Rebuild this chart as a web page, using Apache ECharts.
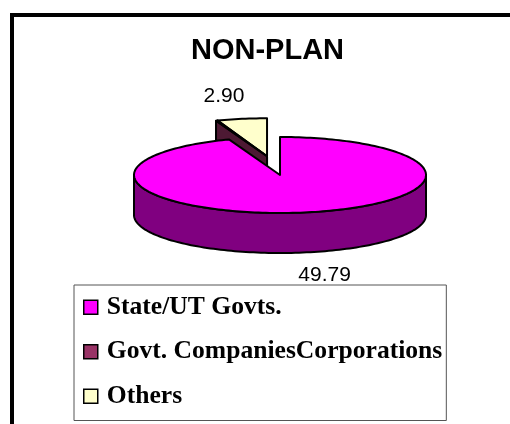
<!DOCTYPE html>
<html>
<head>
<meta charset="utf-8">
<script src="https://cdn.jsdelivr.net/npm/echarts@6/dist/echarts.min.js"></script>
<style>
  html, body { margin: 0; padding: 0; background: #fff; }
  #chart { width: 510px; height: 424px; }
</style>
</head>
<body>
<div id="chart"></div>
<script>
// 数据
const categories = ['State/UT Govts.', 'Govt. CompaniesCorporations', 'Others'];
const values = [49.79, 0.1, 2.90];
const valueLabels = ['49.79', '', '2.90'];
const exploded = [false, true, true];

// 颜色
const topColors = ['#ff00ff', '#993366', '#ffffcc'];
const sideColors = ['#800080', '#4d1933', '#808066'];

// 饼图的位置和大小
const CX = 280, CY = 175, RX = 146, RY = 38, DEPTH = 40, EXPLODE = 0.5;

const TWO_PI = Math.PI * 2;
const total = values.reduce((s, v) => s + v, 0);
const starts = [];
let acc = 0;
values.forEach(v => { starts.push(acc / total * TWO_PI); acc += v; });

// 分离出去的扇区一起移动
let e0 = Infinity, e1 = -Infinity;
values.forEach((v, i) => {
  if (exploded[i]) {
    e0 = Math.min(e0, starts[i]);
    e1 = Math.max(e1, starts[i] + v / total * TWO_PI);
  }
});
const em = (e0 + e1) / 2;
const explodeOff = [EXPLODE * RX * Math.sin(em), -EXPLODE * RY * Math.cos(em)];

function makeRender(i) {
  return function (params, api) {
    const a0 = starts[i];
    const a1 = a0 + api.value(0) / total * TWO_PI;
    const ox = CX + (exploded[i] ? explodeOff[0] : 0);
    const oy = CY + (exploded[i] ? explodeOff[1] : 0);
    // 角度从12点方向顺时针
    const pt = (t, dz) => [ox + RX * Math.sin(t), oy - RY * Math.cos(t) + dz];
    const arc = (t0, t1, dz) => {
      const n = Math.max(2, Math.ceil((t1 - t0) / (Math.PI / 120)));
      const pts = [];
      for (let k = 0; k <= n; k++) pts.push(pt(t0 + (t1 - t0) * k / n, dz));
      return pts;
    };
    const line = { stroke: '#000', lineWidth: 2, lineJoin: 'round' };
    const children = [];

    // 前面的侧面
    const f0 = Math.max(a0, Math.PI / 2), f1 = Math.min(a1, Math.PI * 1.5);
    if (f1 > f0) {
      children.push({
        type: 'polygon',
        shape: { points: arc(f0, f1, 0).concat(arc(f0, f1, DEPTH).reverse()) },
        style: Object.assign({ fill: sideColors[i] }, line)
      });
    }
    // 切面
    [[a0, Math.sin(a0) < -1e-6], [a1, Math.sin(a1) > 1e-6]].forEach(([t, vis]) => {
      if (!vis) return;
      children.push({
        type: 'polygon',
        shape: { points: [[ox, oy], pt(t, 0), pt(t, DEPTH), [ox, oy + DEPTH]] },
        style: Object.assign({ fill: sideColors[i] }, line)
      });
    });
    // 顶面
    children.push({
      type: 'polygon',
      shape: { points: [[ox, oy]].concat(arc(a0, a1, 0)) },
      style: Object.assign({ fill: topColors[i] }, line)
    });
    // 数值
    if (valueLabels[i]) {
      const m = (a0 + a1) / 2;
      children.push({
        type: 'text',
        x: ox + RX * 1.72 * Math.sin(m),
        y: oy - RY * 1.6 * Math.cos(m) + (Math.cos(m) < 0 ? DEPTH : 0),
        style: {
          text: valueLabels[i],
          font: '21px "Liberation Sans", Arial, sans-serif',
          fill: '#000',
          align: 'center',
          verticalAlign: 'middle'
        }
      });
    }
    return { type: 'group', children };
  };
}

const chartDom = document.getElementById('chart');
const myChart = echarts.init(chartDom);
const option = {
  backgroundColor: '#fff',
  animation: false,
  title: {
    text: 'NON-PLAN',
    left: 191,
    top: 36,
    padding: 0,
    textStyle: {
      fontFamily: '"Liberation Sans", Arial, sans-serif',
      fontWeight: 'bold',
      fontSize: 29,
      color: '#000'
    }
  },
  legend: {
    data: categories,
    orient: 'vertical',
    left: 74,
    top: 285,
    icon: 'rect',
    itemWidth: 14,
    itemHeight: 14,
    itemGap: 18,
    padding: [9, 4, 11, 9],
    backgroundColor: '#fff',
    borderColor: '#555',
    borderWidth: 1,
    itemStyle: { borderColor: '#000', borderWidth: 1.5 },
    textStyle: {
      fontFamily: '"Liberation Serif", "Times New Roman", serif',
      fontWeight: 'bold',
      fontSize: 25.6,
      lineHeight: 26.5,
      color: '#000',
      padding: [0, 0, 0, 4]
    }
  },
  graphic: [{
    type: 'rect',
    z: -10,
    shape: { x: 12, y: 15, width: 600, height: 600 },
    style: { fill: 'none', stroke: '#000', lineWidth: 4 }
  }],
  series: categories.map((name, i) => ({
    type: 'custom',
    name: name,
    coordinateSystem: 'none',
    z: exploded[i] ? 4 - i : 5,
    itemStyle: { color: topColors[i] },
    data: [[values[i]]],
    renderItem: makeRender(i)
  }))
};

option && myChart.setOption(option);
</script>
</body>
</html>
